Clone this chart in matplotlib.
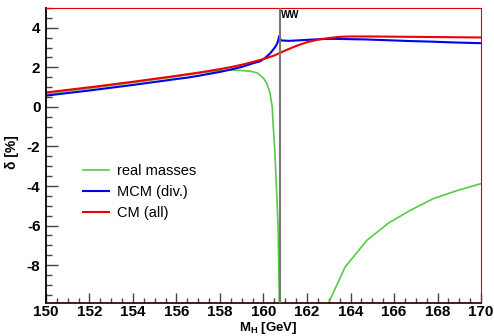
import numpy as np
import matplotlib
matplotlib.use("Agg")
import matplotlib.pyplot as plt
from matplotlib.ticker import MultipleLocator

plt.rcParams['font.family'] = ['Liberation Sans', 'DejaVu Sans']
plt.rcParams['axes.unicode_minus'] = False
plt.rcParams['mathtext.fontset'] = 'custom'
plt.rcParams['mathtext.bf'] = 'Liberation Sans:bold'

# threshold 2*M_W
m_ww = 160.76

# real masses (green): below and above threshold
real_lo_x = [150.0, 151.0, 152.0, 153.0, 154.0, 155.0, 156.0, 156.5, 157.0, 157.5, 158.0, 158.5,
             159.0, 159.4, 159.7, 160.0, 160.15, 160.3, 160.4, 160.45, 160.52, 160.57, 160.62,
             160.67, 160.71, 160.74]
real_lo_y = [0.66, 0.80, 0.94, 1.08, 1.23, 1.38, 1.53, 1.62, 1.70, 1.77, 1.83, 1.86,
             1.84, 1.80, 1.72, 1.45, 1.20, 0.70, 0.0, -1.0, -2.2, -3.5, -4.7,
             -6.1, -8.5, -11.0]
real_hi_x = [162.75, 163.75, 164.75, 165.75, 166.75, 167.8, 168.85, 170.0]
real_hi_y = [-10.5, -8.1, -6.75, -5.87, -5.23, -4.64, -4.25, -3.88]

# MCM (div.) (blue)
mcm_x = [150.0, 151.0, 152.0, 153.0, 154.0, 155.0, 156.0, 156.5, 157.0, 157.5, 158.0, 158.5,
         159.0, 159.25, 159.5, 159.85, 160.1, 160.3, 160.45, 160.58, 160.66, 160.72,
         160.8, 161.2, 161.7, 162.2, 162.7, 163.2, 163.7, 164.7, 165.7, 166.7, 167.7, 168.7, 170.0]
mcm_y = [0.57, 0.70, 0.83, 0.97, 1.11, 1.26, 1.41, 1.48, 1.57, 1.67, 1.77, 1.89,
         2.02, 2.11, 2.20, 2.31, 2.50, 2.70, 2.90, 3.10, 3.30, 3.58,
         3.36, 3.34, 3.37, 3.40, 3.43, 3.44, 3.43, 3.41, 3.37, 3.33, 3.30, 3.26, 3.22]

# CM (all) (red)
cm_x = [150.0, 151.0, 152.0, 153.0, 154.0, 155.0, 156.0, 157.0, 158.0, 158.5, 159.0, 159.5,
        160.0, 160.5, 161.0, 161.5, 162.0, 162.5, 163.0, 163.5, 164.0, 165.0, 166.0, 167.0,
        168.0, 169.0, 170.0]
cm_y = [0.73, 0.86, 0.99, 1.13, 1.27, 1.42, 1.57, 1.73, 1.91, 2.01, 2.13, 2.27,
        2.42, 2.60, 2.85, 3.08, 3.27, 3.40, 3.48, 3.54, 3.56, 3.56, 3.55, 3.54,
        3.53, 3.52, 3.51]

fig = plt.figure(figsize=(4.94, 3.36), dpi=100)
ax = fig.add_axes([0.0931, 0.0991, 0.8806, 0.8771])

green = '#55cc44'
ax.plot(real_lo_x, real_lo_y, color=green, lw=1.2, label='real masses')
ax.plot(real_hi_x, real_hi_y, color=green, lw=1.2)
ax.plot(mcm_x, mcm_y, color='#0000ee', lw=1.5, label='MCM (div.)')
ax.plot(cm_x, cm_y, color='#ee0000', lw=1.5, label='CM (all)')

ax.axvline(m_ww, color='#777777', lw=1.5, zorder=5)
ax.text(m_ww + 0.05, 4.9, 'WW', fontsize=7, fontweight='bold', va='top', ha='left')

ax.set_xlim(150, 170)
ax.set_ylim(-9.9, 5.0)

ax.xaxis.set_minor_locator(MultipleLocator(0.5))
ax.yaxis.set_minor_locator(MultipleLocator(0.5))
ax.tick_params(axis='both', which='both', direction='in', top=False, right=False, color='#444444')
ax.tick_params(axis='x', which='major', length=7, width=1, pad=1.5)
ax.tick_params(axis='x', which='minor', length=3.5, width=1)
ax.tick_params(axis='y', which='major', length=8.5, width=1, pad=4)
ax.tick_params(axis='y', which='minor', length=4.5, width=1)
ax.set_xticks(np.arange(150, 171, 2))
ax.set_xticklabels([str(v) for v in range(150, 171, 2)], fontsize=11, fontweight='bold')
ax.set_yticks(np.arange(-8, 5, 2))
ax.set_yticklabels([str(v) for v in range(-8, 5, 2)], fontsize=11, fontweight='bold')

ax.spines['left'].set_color('black')
ax.spines['left'].set_linewidth(1.3)
ax.spines['bottom'].set_color('#3a0a0a')
ax.spines['bottom'].set_linewidth(1.3)
ax.spines['top'].set_color('#dd0000')
ax.spines['right'].set_color('#dd0000')

ax.set_xlabel(r'$\mathbf{M_H}$ [GeV]', fontsize=9.5, fontweight='bold')
ax.xaxis.set_label_coords(0.51, -0.06)
ax.set_ylabel('δ [%]', fontsize=10, fontweight='bold')
ax.yaxis.set_label_coords(-0.062, 0.51)

ax.legend(loc='lower left', bbox_to_anchor=(0.055, 0.235), frameon=False, fontsize=10.5,
          handlelength=1.8, labelspacing=0.5, handletextpad=0.5)

fig.savefig('out.png', dpi=100)
